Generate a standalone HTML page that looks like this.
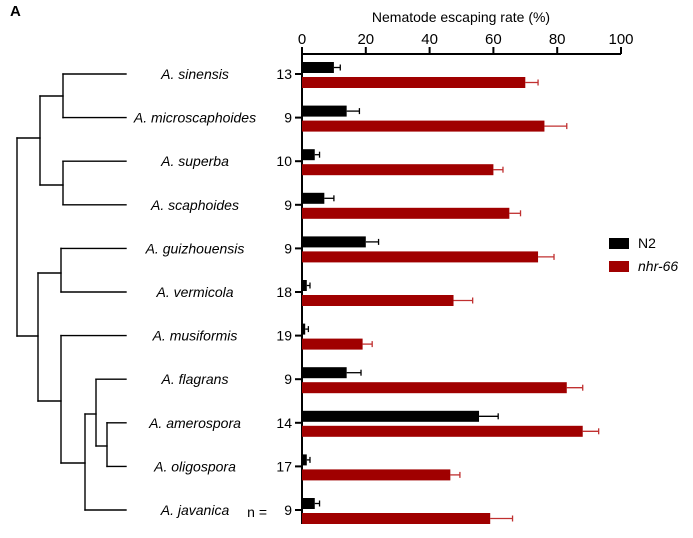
<!DOCTYPE html><html><head><meta charset="utf-8"><style>body{margin:0;background:#fff}svg{font-family:"Liberation Sans",sans-serif}</style></head><body>
<svg id="c" width="693" height="533"></svg>
<script>
const species=["A. sinensis","A. microscaphoides","A. superba","A. scaphoides","A. guizhouensis","A. vermicola","A. musiformis","A. flagrans","A. amerospora","A. oligospora","A. javanica"];
const nCounts=[13,9,10,9,9,18,19,9,14,17,9];
const n2Values=[10,14,4,7,20,1.5,1,14,55.5,1.5,4];
const n2Errors=[2,4,1.5,3,4,1,1,4.5,6,1,1.5];
const nhrValues=[70,76,60,65,74,47.5,19,83,88,46.5,59];
const nhrErrors=[4,7,3,3.5,5,6,3,5,5,3,7];
const xTicks=[0,20,40,60,80,100];
const svg=document.getElementById('c');const NS='http://www.w3.org/2000/svg';
function el(t,a,txt){const e=document.createElementNS(NS,t);for(const k in a)e.setAttribute(k,a[k]);if(txt!==undefined)e.textContent=txt;svg.appendChild(e);return e;}
const x=v=>302+v*3.19;const y=i=>74+i*43.6;
let e=el('text',{x:10,y:16,'font-weight':'bold','font-size':15},'A');
e=el('text',{x:461,y:22,'font-size':14,'text-anchor':'middle'},'Nematode escaping rate (%)');
e=el('line',{x1:x(0),x2:x(100),y1:54,y2:54,stroke:'#000','stroke-width':2});
e=el('line',{x1:x(0),x2:x(0),y1:53,y2:y(10)+14,stroke:'#000','stroke-width':2});
xTicks.forEach(t=>{let l=el('line',{x1:x(t),x2:x(t),y1:47,y2:54,stroke:'#000','stroke-width':2});
let tx=el('text',{x:x(t),y:44,'font-size':15,'text-anchor':'middle'},t);});
species.forEach((s,i)=>{const c=y(i);
let t=el('text',{x:195,y:c+5,'font-size':14,'font-style':'italic','text-anchor':'middle'},s);
t=el('text',{x:292,y:c+5,'font-size':14,'text-anchor':'end'},nCounts[i]);
let tk=el('line',{x1:295,x2:302,y1:c,y2:c,stroke:'#000','stroke-width':2});
const rows=[[n2Values[i],n2Errors[i],c-12,'#000','n2'],[nhrValues[i],nhrErrors[i],c+3,'#a00000','nhr66']];
rows.forEach(([v,er,top,col,nm])=>{const cy=top+5.5;
let ln=el('line',{x1:x(v),x2:x(v+er),y1:cy,y2:cy,stroke:col==='#000'?'#000':'#c03030','stroke-width':1.3});
ln=el('line',{x1:x(v+er),x2:x(v+er),y1:cy-3,y2:cy+3,stroke:col==='#000'?'#000':'#c03030','stroke-width':1.3});
let r=el('rect',{x:x(0),y:top,width:x(v)-x(0),height:11,fill:col});});});
e=el('text',{x:267,y:y(10)+7,'font-size':14,'text-anchor':'end'},'n =');
// tree
const L=126;
const segs=[[63,y(0),L,y(0)],[63,y(1),L,y(1)],[63,y(0),63,y(1)],[63,y(2),L,y(2)],[63,y(3),L,y(3)],[63,y(2),63,y(3)],
[40,96,63,96],[40,185,63,185],[40,96,40,185],[17,138,40,138],[17,336,38,336],[17,138,17,336],
[61,y(4),L,y(4)],[61,y(5),L,y(5)],[61,y(4),61,y(5)],[38,273,61,273],[38,401,61,401],[38,273,38,401],
[61,y(6),L,y(6)],[61,y(6),61,463],[61,463,85,463],[85,414,85,y(10)],[85,y(10),L,y(10)],[85,414,96,414],
[96,y(7),L,y(7)],[96,y(7),96,446],[96,446,107,446],[107,y(8),107,y(9)],[107,y(8),L,y(8)],[107,y(9),L,y(9)]];
segs.forEach(s=>{let l=el('line',{x1:s[0],y1:s[1],x2:s[2],y2:s[3],stroke:'#000','stroke-width':1.4,'stroke-linecap':'square'});});
// legend
e=el('rect',{x:609,y:238,width:20,height:11,fill:'#000'});
e=el('text',{x:638,y:248,'font-size':14},'N2');
e=el('rect',{x:609,y:261,width:20,height:11,fill:'#a00000'});
e=el('text',{x:638,y:271,'font-size':14,'font-style':'italic'},'nhr-66');
</script></body></html>
